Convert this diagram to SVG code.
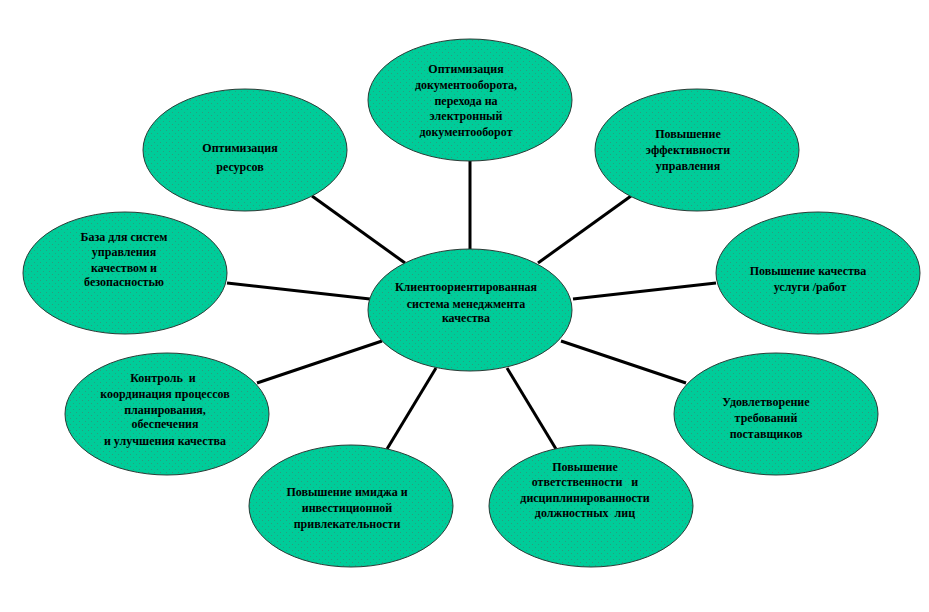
<svg xmlns="http://www.w3.org/2000/svg" width="929" height="612" viewBox="0 0 929 612">
<defs>
<pattern id="dots" width="6" height="6" patternUnits="userSpaceOnUse">
<rect width="6" height="6" fill="#00CC99"/>
<rect x="1" y="1" width="1" height="1" fill="#2a9c80"/>
<rect x="4" y="4" width="1" height="1" fill="#2a9c80"/>
</pattern>
<style>
.n{fill:url(#dots);stroke:#2b3b36;stroke-width:1}
.t{font-family:"Liberation Serif","Times New Roman",serif;font-size:12px;font-weight:bold;fill:#000;text-anchor:middle;white-space:pre}
.c{stroke:#000;stroke-width:3;fill:none}
</style>
</defs>
<rect width="929" height="612" fill="#fff"/>
<g id="connectors">
<line class="c" x1="470" y1="161" x2="470" y2="250"/>
<line class="c" x1="312" y1="196" x2="405" y2="263"/>
<line class="c" x1="631" y1="196" x2="538" y2="263"/>
<line class="c" x1="227" y1="283" x2="370" y2="299"/>
<line class="c" x1="716" y1="283" x2="573" y2="299"/>
<line class="c" x1="257" y1="383" x2="382" y2="341"/>
<line class="c" x1="686" y1="383" x2="561" y2="341"/>
<line class="c" x1="387" y1="449" x2="436" y2="368"/>
<line class="c" x1="556" y1="449" x2="507" y2="368"/>
</g>
<g id="node-center">
<ellipse class="n" cx="470" cy="310" rx="102" ry="61"/>
<text class="t" x="466" y="291">Клиентоориентированная</text>
<text class="t" x="466" y="308">система менеджмента</text>
<text class="t" x="466" y="322">качества</text>
</g>
<g id="node-docs">
<ellipse class="n" cx="470" cy="100" rx="102" ry="61"/>
<text class="t" x="466" y="73">Оптимизация</text>
<text class="t" x="466" y="89">документооборота,</text>
<text class="t" x="466" y="105">перехода на</text>
<text class="t" x="466" y="120">электронный</text>
<text class="t" x="466" y="136">документооборот</text>
</g>
<g id="node-resources">
<ellipse class="n" cx="245" cy="150" rx="102" ry="61"/>
<text class="t" x="240" y="152">Оптимизация</text>
<text class="t" x="240" y="171">ресурсов</text>
</g>
<g id="node-efficiency">
<ellipse class="n" cx="697" cy="150" rx="102" ry="61"/>
<text class="t" x="688" y="138">Повышение</text>
<text class="t" x="688" y="154">эффективности</text>
<text class="t" x="688" y="170">управления</text>
</g>
<g id="node-base">
<ellipse class="n" cx="125" cy="273" rx="102" ry="61"/>
<text class="t" x="124" y="241">База для систем</text>
<text class="t" x="124" y="256">управления</text>
<text class="t" x="124" y="272">качеством и</text>
<text class="t" x="124" y="286">безопасностью</text>
</g>
<g id="node-service">
<ellipse class="n" cx="818" cy="273" rx="102" ry="61"/>
<text class="t" x="808" y="275">Повышение качества</text>
<text class="t" x="810" y="291">услуги /работ</text>
</g>
<g id="node-control">
<ellipse class="n" cx="167" cy="414" rx="102" ry="61"/>
<text class="t" x="163" y="382">Контроль  и</text>
<text class="t" x="165" y="398">координация процессов</text>
<text class="t" x="165" y="414">планирования,</text>
<text class="t" x="165" y="428">обеспечения</text>
<text class="t" x="165" y="445">и улучшения качества</text>
</g>
<g id="node-suppliers">
<ellipse class="n" cx="776" cy="414" rx="102" ry="61"/>
<text class="t" x="766" y="406">Удовлетворение</text>
<text class="t" x="766" y="422">требований</text>
<text class="t" x="766" y="438">поставщиков</text>
</g>
<g id="node-image">
<ellipse class="n" cx="351" cy="506" rx="102" ry="61"/>
<text class="t" x="347" y="496">Повышение имиджа и</text>
<text class="t" x="347" y="512">инвестиционной</text>
<text class="t" x="347" y="528">привлекательности</text>
</g>
<g id="node-responsibility">
<ellipse class="n" cx="591" cy="506" rx="102" ry="61"/>
<text class="t" x="585" y="471">Повышение</text>
<text class="t" x="585" y="486">ответственности   и</text>
<text class="t" x="585" y="502">дисциплинированности</text>
<text class="t" x="585" y="517">должностных  лиц</text>
</g>
</svg>
